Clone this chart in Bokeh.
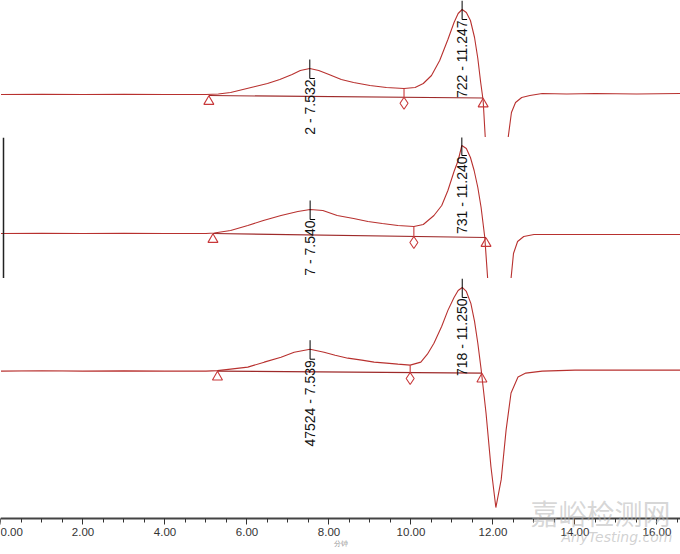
import math
from bokeh.plotting import figure
from bokeh.layouts import column
from bokeh.models import SingleIntervalTicker, NumeralTickFormatter, Span, Label, Range1d
from bokeh.embed import file_html
from bokeh.resources import INLINE
from bokeh.core.properties import value

# ---------------- data ----------------
# x: retention time (min); y: detector response (arbitrary units)
time1 = [0.0, 1.0, 2.0, 3.0, 4.0, 5.0, 5.3, 5.6, 5.9, 6.2, 6.5, 6.8, 7.1, 7.3, 7.532,
         7.75, 8.0, 8.3, 8.6, 9.0, 9.4, 9.83, 10.1, 10.3, 10.5, 10.7, 10.9, 11.05, 11.15,
         11.247, 11.35, 11.45, 11.55, 11.63, 11.7, 11.76, 11.8, 11.85, 11.95, 12.07, 12.2,
         12.32, 12.37, 12.45, 12.55, 12.7, 12.9, 13.2, 13.8, 14.5, 15.5, 16.6]
signal1 = [0, 0.3, 0, 0.2, 0, 0, 0.5, 2, 5, 8, 11, 15, 20, 24, 26,
           24, 20, 15, 12, 9, 7, 6, 7, 11, 19, 34, 55, 72, 81,
           85, 82, 74, 57, 36, 12, -6, -35, -70, -100, -138, -108,
           -60, -43, -18, -8, -3, -1, 1, 0.5, 1, 0.5, 1]

time2 = [0.0, 1.0, 2.0, 3.0, 4.0, 5.0, 5.2, 5.6, 6.02, 6.4, 6.83, 7.24, 7.54, 7.85,
         8.2, 8.6, 8.95, 9.3, 9.68, 10.07, 10.3, 10.56, 10.75, 10.9, 11.05, 11.15, 11.24,
         11.35, 11.45, 11.54, 11.63, 11.71, 11.8, 11.87, 11.95, 12.07, 12.2, 12.32, 12.44,
         12.5, 12.6, 12.75, 13.0, 13.5, 14.5, 15.5, 16.6]
signal2 = [0, 0.3, 0, 0.2, 0, 0, 0.5, 3, 8, 13, 18, 22, 24, 23,
           18, 15, 12, 10, 8, 7, 9, 18, 28, 43, 62, 73, 88,
           85, 76, 63, 46, 26, -4, -45, -96, -137, -109, -60, -45,
           -20, -8, -3, -1, -1, -1, -1, -1]

time3 = [0.0, 1.0, 2.0, 3.0, 4.0, 5.0, 5.28, 5.6, 6.02, 6.42, 6.83, 7.15, 7.539,
         7.88, 8.15, 8.46, 8.8, 9.1, 9.4, 9.68, 9.98, 10.24, 10.4, 10.56, 10.75, 10.9,
         11.05, 11.15, 11.25, 11.35, 11.46, 11.55, 11.63, 11.71, 11.77, 11.83, 11.95,
         12.07, 12.2, 12.32, 12.44, 12.61, 12.8, 13.2, 14.0, 15.0, 16.6]
signal3 = [0, 0.3, 0, 0.2, 0, 0, 0.5, 2, 4, 9, 14, 19, 22,
           19, 16, 13, 11, 9, 8, 7, 6, 9, 17, 28, 45, 61,
           74, 81, 84, 80, 68, 50, 28, 2, -20, -42, -96,
           -137, -109, -59, -22, -6, -2, 0, 1, 1, 1]

# integration results
peak_rt = [[7.532, 11.247], [7.540, 11.240], [7.539, 11.250]]
peak_top = [[26, 85], [24, 88], [22, 84]]
peak_labels = [["2 - 7.532", "722 - 11.247"],
               ["7 - 7.540", "731 - 11.240"],
               ["47524 - 7.539", "718 - 11.250"]]
base_start_t = [5.07, 5.17, 5.28]
base_start_y = [-1, 0, 0]
base_end_t = [11.76, 11.83, 11.73]
base_end_y = [-3.5, -4, -2]
valley_t = [9.83, 10.07, 9.98]
valley_y = [6, 7, 6]

x_ticks_interval = 2
x_axis_title = "分钟"
watermark_cn = "嘉峪检测网"
watermark_en = "AnyTesting.com"

# ---------------- layout ----------------
W = 680
PXU = 41.0                      # pixels per minute
X0 = -0.012
X1 = X0 + W / PXU
pane_ranges = [(-43, 94), (-45, 96), (-148, 93)]
pane_heights = [137, 141, 240]
AXIS_ROOM = 34                  # pixels below the last pane for the time axis

TRACE = "#b8312f"
BASE = "#9e2a2a"
MARK = "#c8383a"
FONT = "Liberation Sans"

times = [time1, time2, time3]
signals = [signal1, signal2, signal3]
xr = Range1d(X0, X1)
x_per_px = 1.0 / PXU

figs = []
for i in range(3):
    lo, hi = pane_ranges[i]
    u = (hi - lo) / pane_heights[i]  # data units per pixel
    last = (i == 2)
    fh = pane_heights[i] + (AXIS_ROOM if last else 0)
    ylo = lo - (AXIS_ROOM * u if last else 0)
    p = figure(frame_width=W, frame_height=fh, x_range=xr,
               y_range=Range1d(ylo, hi), output_backend="svg", toolbar_location=None,
               x_axis_location="below" if last else None, y_axis_location=None,
               min_border=0, outline_line_color=None,
               background_fill_color="white", border_fill_color="white")
    p.xgrid.visible = False
    p.ygrid.visible = False

    # chromatogram trace
    p.line(times[i], signals[i], line_color=TRACE, line_width=1.1)
    # integration baseline
    p.line([base_start_t[i], base_end_t[i]], [base_start_y[i], base_end_y[i]],
           line_color=BASE, line_width=1.1)
    # baseline start/end markers
    p.scatter([base_start_t[i], base_end_t[i]],
              [base_start_y[i] - 6 * u, base_end_y[i] - 6 * u],
              marker="triangle", size=10, fill_color="white", fill_alpha=0,
              line_color=MARK, line_width=1.1)
    # valley drop line + diamond
    frac = (valley_t[i] - base_start_t[i]) / (base_end_t[i] - base_start_t[i])
    vb = base_start_y[i] + frac * (base_end_y[i] - base_start_y[i])
    p.segment([valley_t[i]], [valley_y[i]], [valley_t[i]], [vb - 1 * u],
              line_color=MARK, line_width=1.1)
    p.scatter([valley_t[i]], [vb - 6 * u], marker="diamond", size=12,
              fill_color="white", fill_alpha=0, line_color=MARK, line_width=1.1)

    # peak apex ticks and labels
    for rt, top, lab in zip(peak_rt[i], peak_top[i], peak_labels[i]):
        p.segment([rt], [top + 9 * u], [rt], [top - 10 * u], line_color="black", line_width=1)
        p.segment([rt], [top - 10 * u], [rt + 5 * x_per_px], [top - 10 * u],
                  line_color="black", line_width=1)
        p.text([rt], [top - 11 * u], text=[lab], angle=math.pi / 2,
               text_align="right", text_baseline="middle",
               text_font=value(FONT), text_font_size="14px", text_color="#111111")

    if i == 1:
        p.add_layout(Span(location=X0 + 3 * x_per_px, dimension="height",
                          line_color="#222222", line_width=1.5))

    if last:
        # site watermark (drawn first so the axis sits on top of it)
        p.add_layout(Label(x=X0 + 530 * x_per_px, y=lo + 6 * u, text=watermark_cn,
                           text_font="Noto Sans CJK SC", text_font_size="28px",
                           text_color="#b4b4b4", text_alpha=0.55,
                           text_baseline="middle", text_align="left"))
        p.add_layout(Label(x=X0 + 561 * x_per_px, y=lo - 18 * u, text=watermark_en,
                           text_font="DejaVu Sans", text_font_size="14px",
                           text_font_style="italic", text_color="#b4b4b4", text_alpha=0.6,
                           text_baseline="middle", text_align="left"))

        ax = p.xaxis[0]
        ax.fixed_location = lo
        ax.ticker = SingleIntervalTicker(interval=x_ticks_interval, num_minor_ticks=4)
        ax.formatter = NumeralTickFormatter(format="0.00")
        ax.axis_line_color = "#444444"
        ax.axis_line_width = 2
        ax.major_tick_line_color = "#333333"
        ax.minor_tick_line_color = "#333333"
        ax.major_tick_in = 0
        ax.major_tick_out = 6
        ax.minor_tick_in = 0
        ax.minor_tick_out = 4
        ax.major_label_standoff = 3
        ax.major_label_text_font = FONT
        ax.major_label_text_font_size = "11.5px"
        ax.major_label_text_color = "#333333"
        ax.axis_label = x_axis_title
        ax.axis_label_text_font_size = "7px"
        ax.axis_label_text_font_style = "normal"
        ax.axis_label_text_color = "#999999"
        ax.axis_label_standoff = 1
    figs.append(p)

layout = column(*figs, spacing=0)
open("out.html", "w").write(file_html(layout, INLINE))
